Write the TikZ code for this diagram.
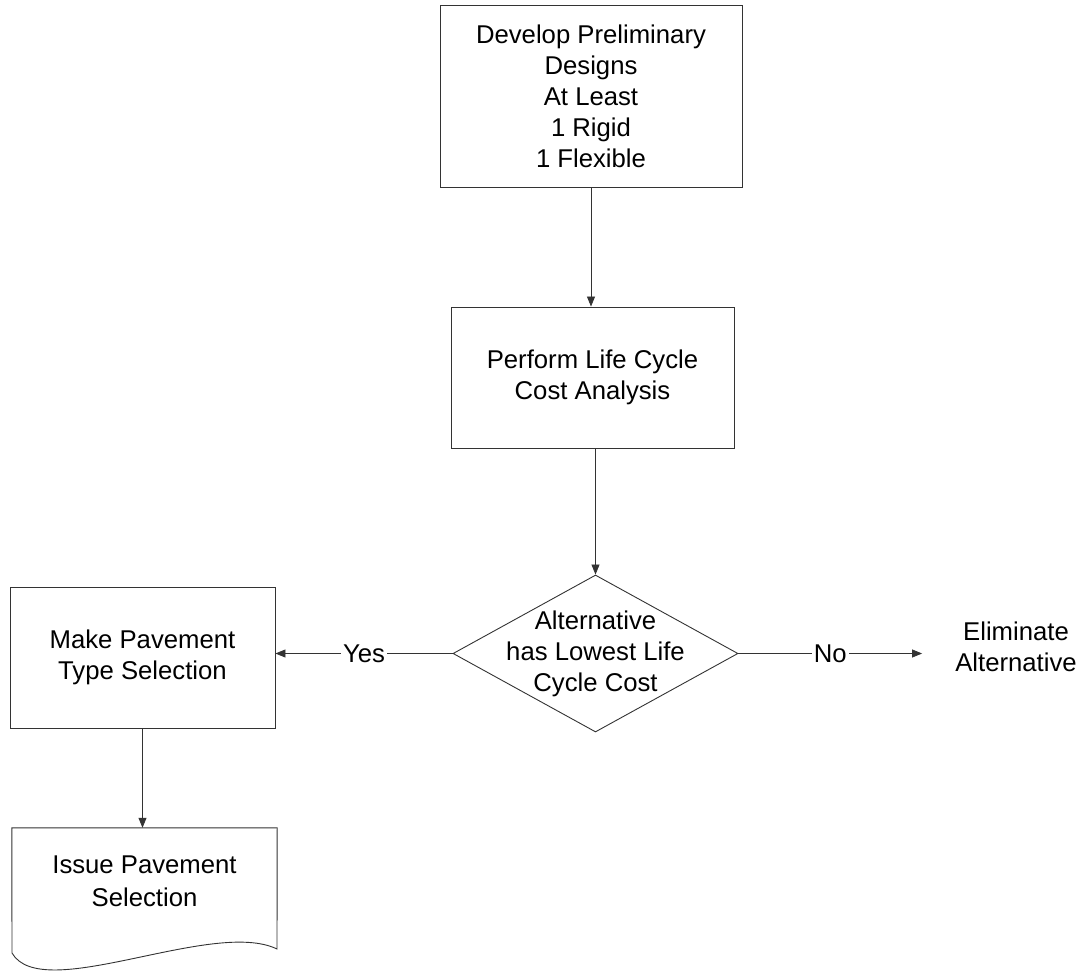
\documentclass[tikz,border=0pt]{standalone}
\usepackage{fontspec}
\setmainfont{Liberation Sans}
\usetikzlibrary{arrows.meta,shapes.geometric}
\begin{document}
\begin{tikzpicture}[x=1pt,y=-1pt,
  every node/.style={font=\fontsize{25.7}{31}\selectfont, align=center},
  box/.style={draw=black!80, line width=0.9pt, rectangle, inner sep=0pt},
  conn/.style={draw=black!80, line width=0.8pt, -{Triangle[length=10pt,width=8pt]}},
  lbl/.style={fill=white, inner sep=2pt}]
\useasboundingbox (0,0) rectangle (1085,973);

\node[box, minimum width=302pt, minimum height=182pt] (top) at (591,96)
  {Develop Preliminary\\Designs\\At Least\\1 Rigid\\1 Flexible};
\node[box, minimum width=283pt, minimum height=141pt] (perf) at (592.5,377.5)
  {Perform Life Cycle\\Cost Analysis};
\node[draw=black!80, line width=0.9pt, diamond, minimum width=285pt, minimum height=157pt, inner sep=0pt] (dec) at (595.5,653.5) {};
\node (dect) at (dec.center) {Alternative\\has Lowest Life\\Cycle Cost};
\node[box, minimum width=265pt, minimum height=141pt] (make) at (142.5,657.5)
  {Make Pavement\\Type Selection};
\node[inner sep=0pt, minimum width=265pt, minimum height=106pt] (doc) at (144.5,881)
  {Issue Pavement\\[2pt]Selection};
\draw[draw=black!80, line width=0.9pt] (doc.north west) -- (doc.north east) -- (277,949)
  .. controls (213,918) and (42,1005) .. (12,953) -- cycle;
\node[inner xsep=33pt, inner ysep=0pt] (elim) at (1016,647) {Eliminate\\Alternative};

\draw[conn] (top.south) -- (top.south |- perf.north);
\draw[conn] (perf.south -| dec.north) -- (dec.north);
\draw[conn] (dec.west) -- node[lbl]{Yes} (dec.west -| make.east);
\draw[conn] (dec.east) -- node[lbl]{No} (dec.east -| elim.west);
\draw[conn] (make.south) -- (make.south |- doc.north);
\end{tikzpicture}
\end{document}
